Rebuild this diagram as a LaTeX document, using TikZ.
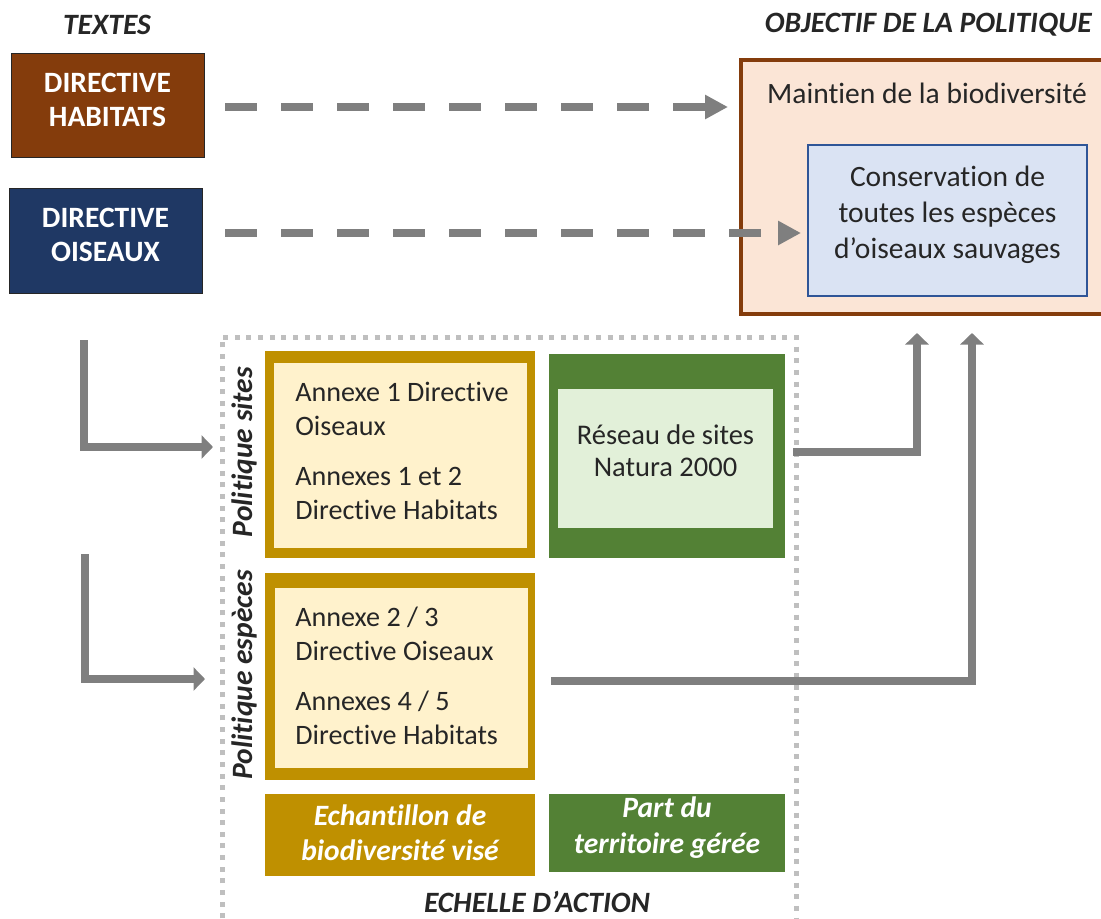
\documentclass[tikz,border=0pt]{standalone}
\usepackage{fontspec}
\setmainfont{Carlito}[Ligatures=NoCommon]
\usetikzlibrary{arrows.meta}
\definecolor{brun}{HTML}{843C0C}
\definecolor{marine}{HTML}{1F3864}
\definecolor{peche}{HTML}{FBE5D6}
\definecolor{bleuclair}{HTML}{DAE3F3}
\definecolor{bleubord}{HTML}{2F5597}
\definecolor{or}{HTML}{BF9000}
\definecolor{creme}{HTML}{FFF2CC}
\definecolor{vert}{HTML}{538135}
\definecolor{vertclair}{HTML}{E2F0D9}
\definecolor{gris}{HTML}{7F7F7F}
\definecolor{grisclair}{HTML}{BFBFBF}
\definecolor{encre}{HTML}{262626}
\begin{document}
\begin{tikzpicture}[x=0.2mm,y=-0.2mm,
    titre/.style={font=\fontsize{16.8}{20}\selectfont\bfseries\itshape, text=encre},
    boite/.style={inner sep=0pt},
    directive/.style={text=white, align=center, font=\fontsize{16.8}{19.8}\selectfont\bfseries},
    texte/.style={font=\fontsize{16.8}{19.35}\selectfont, text=encre, align=center},
    annexe/.style={texte, font=\fontsize{16}{19.35}\selectfont, align=left, anchor=west, inner sep=0pt},
    blanc/.style={font=\fontsize{16.8}{19.8}\selectfont\bfseries\itshape, text=white, align=center},
    fleche/.style={draw=gris, line width=1.5mm, dash pattern=on 6.4mm off 4.8mm,
      -{Triangle[length=4.6mm,width=4.6mm]}},
    coude/.style={draw=gris, line width=1.6mm, -{Triangle[length=2.3mm,width=4.6mm]}}]
\useasboundingbox (0,0) rectangle (1101,919);
\node[titre] (textes) at (107,25) {TEXTES};
\node[titre, anchor=east, inner sep=0pt] (objectif) at (1092,25) {OBJECTIF DE LA POLITIQUE};
\node[boite, draw=black!85, line width=0.5pt, fill=brun, minimum width=38.6mm, minimum height=20.8mm] (habitats) at (107.5,105) {};
\node[directive] (habitatstxt) at (107.5,100) {DIRECTIVE\\HABITATS};
\node[boite, draw=black!85, line width=0.5pt, fill=marine, minimum width=38.6mm, minimum height=21mm] (oiseaux) at (105.5,240.5) {};
\node[directive] (oiseauxtxt) at (105.5,235) {DIRECTIVE\\OISEAUX};
\node[boite, draw=brun, line width=0.8mm, fill=peche, minimum width=73.8mm, minimum height=50.8mm] (maintien) at (925.5,187) {};
\node[texte] (maintientxt) at (927,93) {Maintien de la biodiversité};
\node[boite, draw=bleubord, line width=0.4mm, fill=bleuclair, minimum width=55.8mm, minimum height=30.2mm] (conservation) at (947.5,220.5) {};
\node[texte, font=\fontsize{16.8}{20.4}\selectfont] (conservationtxt) at (947.5,214.5) {Conservation de\\toutes les espèces\\d’oiseaux sauvages};
\draw[grisclair, line width=1mm, dash pattern=on 1mm off 1.33mm] (222,930) -- (222,337) -- (796,337) -- (796,930);
\node[boite, fill=or, minimum width=54mm, minimum height=41.4mm] (sites) at (400,454.5) {};
\node[boite, fill=creme, minimum width=50.6mm, minimum height=37mm] (sitesfond) at (400.5,455.5) {};
\node[annexe] (annexesites) at (295,450.5) {Annexe 1 Directive\\Oiseaux\\[3.2mm]Annexes 1 et 2\\Directive Habitats};
\node[boite, fill=vert, minimum width=47.2mm, minimum height=40.8mm] (reseau) at (667,456) {};
\node[boite, fill=vertclair, minimum width=43mm, minimum height=27.8mm] (reseaufond) at (665.5,458.5) {};
\node[texte, font=\fontsize{16.2}{18.1}\selectfont] (reseautxt) at (665.5,450.5) {Réseau de sites\\Natura 2000};
\node[boite, fill=or, minimum width=54mm, minimum height=41.4mm] (especes) at (400,676.5) {};
\node[boite, fill=creme, minimum width=50.6mm, minimum height=36mm] (especesfond) at (401.5,678) {};
\node[annexe] (annexeespeces) at (295,675.5) {Annexe 2 / 3\\Directive Oiseaux\\[3.2mm]Annexes 4 / 5\\Directive Habitats};
\node[boite, fill=or, minimum width=54mm, minimum height=16.4mm] (echantillon) at (400,835) {};
\node[blanc] (echantillontxt) at (400,833) {Echantillon de\\biodiversité visé};
\node[boite, fill=vert, minimum width=47.2mm, minimum height=15.6mm] (territoire) at (667,833) {};
\node[blanc, font=\fontsize{16.8}{20.4}\selectfont\bfseries\itshape] (territoiretxt) at (667,827.5) {Part du\\territoire gérée};
\node[titre] (echelle) at (537,902) {ECHELLE D’ACTION};
\node[titre, rotate=90] (psites) at (244,452) {Politique sites};
\node[titre, rotate=90] (pespeces) at (244,675) {Politique espèces};
\draw[fleche, shorten <=4.2mm, shorten >=2.2mm] ([yshift=-0.4mm]habitats.east) -- ([yshift=-0.4mm]habitats.east -| maintien.west);
\draw[fleche, shorten <=4.6mm, shorten >=1.2mm] ([yshift=1.5mm]oiseaux.east) -- ([yshift=1.5mm]oiseaux.east -| conservation.west);
\coordinate (depart1) at (84,340);
\coordinate (entree1) at (213,447);
\coordinate (depart2) at (85,554);
\coordinate (entree2) at (205,679);
\coordinate (depart4) at (551,681);
\coordinate (haut1) at (917,333);
\coordinate (haut2) at (972,333);
\draw[coude] (depart1) |- (entree1);
\draw[coude] (depart2) |- (entree2);
\draw[coude, shorten <=1.6mm] ([yshift=0.8mm]reseau.east) -| (haut1);
\draw[coude] (depart4) -| (haut2);
\end{tikzpicture}
\end{document}
